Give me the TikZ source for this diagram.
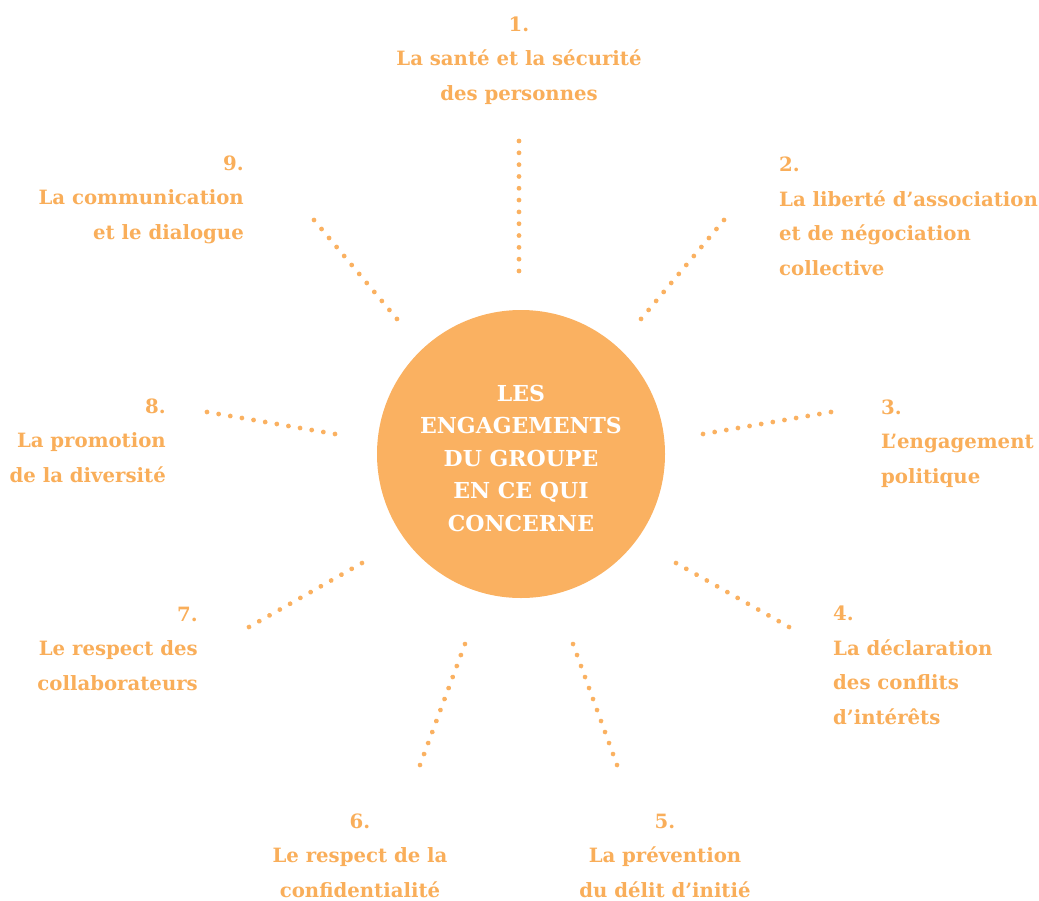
\documentclass[tikz,border=0pt]{standalone}
\usepackage{fontspec}
\setmainfont{DejaVu Serif}
\usetikzlibrary{decorations.markings}
\definecolor{orng}{HTML}{FAB161}
\definecolor{orngtxt}{HTML}{F9AE5A}
\tikzset{
  lbl/.style={text=orngtxt, inner sep=0pt, anchor=base, font=\bfseries\fontsize{19.7}{34.5}\selectfont},
  lblL/.style={lbl, align=left, anchor=base west},
  lblR/.style={lbl, align=right, anchor=base east},
  lblC/.style={lbl, align=center},
  dotline/.style={decoration={markings, mark=between positions 0 and 1 step 0.0909 with {\fill[orng] (0,0) circle (2.4pt);}}, postaction={decorate}},
  hub/.style={circle, fill=orng, minimum size=288pt, inner sep=0pt},
  hubtxt/.style={text=white, inner sep=0pt, align=center, anchor=base, font=\bfseries\fontsize{22}{32.5}\selectfont}
}
\begin{document}
\begin{tikzpicture}[x=1pt,y=-1pt]
\useasboundingbox (0,0) rectangle (1039,900);
\node[hub] (c) at (521,454) {};
\node[hubtxt] (ct) at (521,531) {LES\\ENGAGEMENTS\\DU GROUPE\\EN CE QUI\\CONCERNE};
% labels (anchored at the baseline of their last line)
\node[lblC] (l1) at (519,100) {1.\\La santé et la sécurité\\des personnes};
\node[lblL] (l2) at (779,275) {2.\\La liberté d’association\\et de négociation\\collective};
\node[lblL] (l3) at (881,483) {3.\\L’engagement\\politique};
\node[lblL] (l4) at (833,724) {4.\\La déclaration\\des conflits\\d’intérêts};
\node[lblC] (l5) at (665,897) {5.\\La prévention\\du délit d’initié};
\node[lblC] (l6) at (360,897) {6.\\Le respect de la\\confidentialité};
\node[lblR] (l7) at (198,690) {7.\\Le respect des\\collaborateurs};
\node[lblR] (l8) at (166,482) {8.\\La promotion\\de la diversité};
\node[lblR] (l9) at (244,239) {9.\\La communication\\et le dialogue};
% connector endpoints
\coordinate (a1) at (519,141); \coordinate (b1) at (519,271);
\coordinate (a2) at (724,220); \coordinate (b2) at (641,319);
\coordinate (a3) at (831,412); \coordinate (b3) at (703,434);
\coordinate (a4) at (789,627); \coordinate (b4) at (676,563);
\coordinate (a5) at (617,765); \coordinate (b5) at (573,644);
\coordinate (a6) at (420,765); \coordinate (b6) at (465,644);
\coordinate (a7) at (249,627); \coordinate (b7) at (362,563);
\coordinate (a8) at (207,412); \coordinate (b8) at (335,434);
\coordinate (a9) at (314,220); \coordinate (b9) at (397,319);
\foreach \i in {1,...,9} { \path[dotline] (a\i) -- (b\i); }
\end{tikzpicture}
\end{document}
